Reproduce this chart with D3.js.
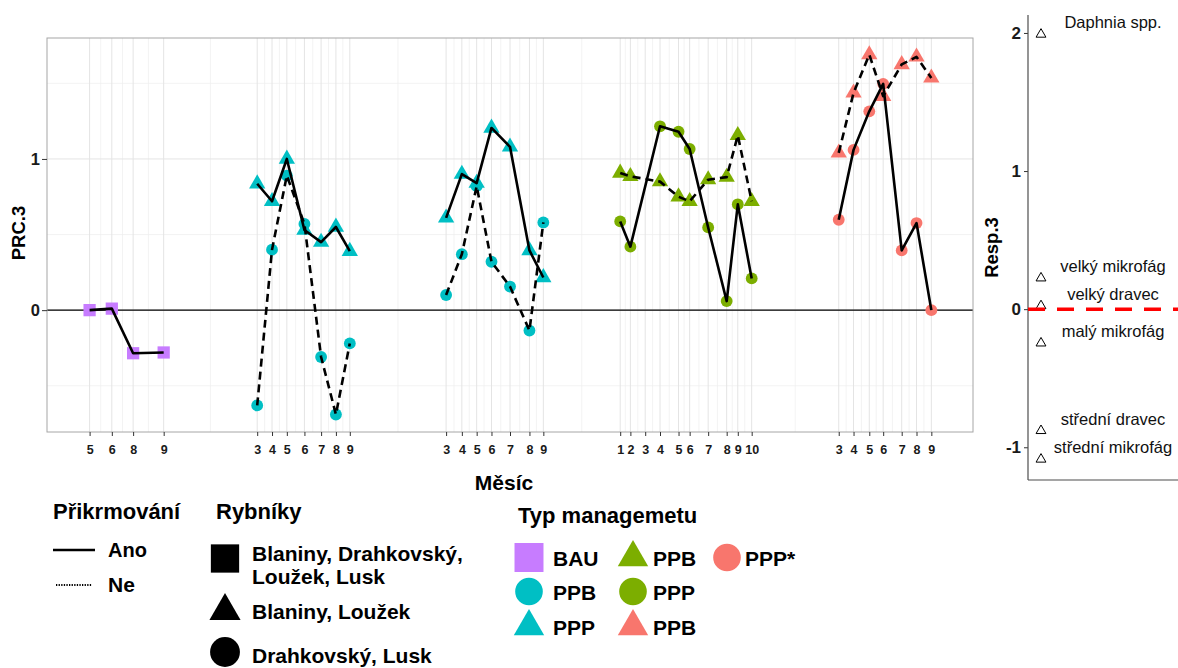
<!DOCTYPE html>
<html>
<head>
<meta charset="utf-8">
<script src="https://cdn.jsdelivr.net/npm/d3@7"></script>
<style>
  body { margin: 0; background: #fff; }
  text { font-family: "Liberation Sans", Arial, sans-serif; }
</style>
</head>
<body>
<svg id="chart" width="1178" height="668"></svg>
<script>
(function(){
    // x axis: position along the concatenated season axis (0-100), month labels
    var tickPos = [4.6, 7.0, 9.3, 12.6,
                   22.7, 24.3, 25.9, 27.8, 29.6, 31.2, 32.7,
                   43.1, 44.8, 46.4, 48.0, 50.0, 52.1, 53.6,
                   61.9, 63.0, 64.6, 66.2, 68.2, 69.4, 71.4, 73.4, 74.6, 76.1,
                   85.5, 87.1, 88.8, 90.3, 92.3, 93.9, 95.5];
    var tickLab = ['5','6','8','9',
                   '3','4','5','6','7','8','9',
                   '3','4','5','6','7','8','9',
                   '1','2','3','4','5','6','7','8','9','10',
                   '3','4','5','6','7','8','9'];

    var posBau = [4.6, 7.0, 9.3, 12.6];
    var posA = [22.7, 24.3, 25.9, 27.8, 29.6, 31.2, 32.7];
    var posB = [43.1, 44.8, 46.4, 48.0, 50.0, 52.1, 53.6];
    var posC = [61.9, 63.0, 66.2, 68.2, 69.4, 71.4, 73.4, 74.6, 76.1];
    var posD = [85.5, 87.1, 88.8, 90.3, 92.3, 93.9, 95.5];

    // PRC.3 values
    var bau      = [0.0, 0.01, -0.285, -0.28];
    var cyanTriA = [0.836, 0.72, 1.0, 0.53, 0.45, 0.55, 0.39];
    var cyanCirA = [-0.63, 0.40, 0.89, 0.57, -0.31, -0.69, -0.22];
    var cyanTriB = [0.61, 0.90, 0.84, 1.205, 1.08, 0.395, 0.216];
    var cyanCirB = [0.10, 0.37, 0.82, 0.32, 0.156, -0.135, 0.58];
    var greenCir = [0.587, 0.42, 1.216, 1.18, 1.066, 0.547, 0.06, 0.70, 0.21];
    var greenTri = [0.907, 0.885, 0.85, 0.75, 0.72, 0.863, 0.88, 1.156, 0.72];
    var redCir   = [0.598, 1.06, 1.315, 1.497, 0.395, 0.576, 0.0];
    var redTri   = [1.04, 1.437, 1.69, 1.415, 1.625, 1.675, 1.536];

    // species scores (Resp.3)
    var species = ['Daphnia spp.', 'velký mikrofág', 'velký dravec', 'malý mikrofág', 'střední dravec', 'střední mikrofág'];
    var resp = [1.99, 0.225, 0.024, -0.246, -0.88, -1.087];

    var purple = '#C77CFF', cyan = '#00BFC4', green = '#7CAE00', red = '#F8766D';

    var series = [
        {x: posBau, y: bau,      shape: 'square',   col: purple, dash: false},
        {x: posA,   y: cyanTriA, shape: 'triangle', col: cyan,   dash: false},
        {x: posA,   y: cyanCirA, shape: 'circle',   col: cyan,   dash: true},
        {x: posB,   y: cyanTriB, shape: 'triangle', col: cyan,   dash: false},
        {x: posB,   y: cyanCirB, shape: 'circle',   col: cyan,   dash: true},
        {x: posC,   y: greenCir, shape: 'circle',   col: green,  dash: false},
        {x: posC,   y: greenTri, shape: 'triangle', col: green,  dash: true},
        {x: posD,   y: redCir,   shape: 'circle',   col: red,    dash: false},
        {x: posD,   y: redTri,   shape: 'triangle', col: red,    dash: true}
    ];

    var svg = d3.select('#chart');
    var L = 47, R = 973, T = 38, B = 432;

    var x = d3.scaleLinear().domain([0, 100]).range([L, R]);
    var y = d3.scaleLinear().domain([-0.806, 1.80]).range([B, T]);

    var symType = {square: d3.symbolSquare, triangle: d3.symbolTriangle, circle: d3.symbolCircle};
    var symSize = {square: 150, triangle: 115, circle: 110};
    var fmt = function(d){ return String(d) };   // plain hyphen for negatives

    // grid --------------------------------
    var grid = svg.append('g');
    var minorX = [];
    for (var i = 1; i < tickPos.length; i++) minorX.push((tickPos[i-1] + tickPos[i]) / 2);
    grid.selectAll('.mx').data(minorX).enter().append('line')
        .attr('x1', function(d){ return x(d) }).attr('x2', function(d){ return x(d) })
        .attr('y1', T).attr('y2', B)
        .attr('stroke', '#eeeeee').attr('stroke-width', 0.7);
    grid.selectAll('.my').data([-0.5, 0.5, 1.5]).enter().append('line')
        .attr('x1', L).attr('x2', R)
        .attr('y1', function(d){ return y(d) }).attr('y2', function(d){ return y(d) })
        .attr('stroke', '#eeeeee').attr('stroke-width', 0.7);
    grid.selectAll('.Mx').data(tickPos).enter().append('line')
        .attr('x1', function(d){ return x(d) }).attr('x2', function(d){ return x(d) })
        .attr('y1', T).attr('y2', B)
        .attr('stroke', '#e4e4e4').attr('stroke-width', 1);
    grid.selectAll('.My').data([0, 1]).enter().append('line')
        .attr('x1', L).attr('x2', R)
        .attr('y1', function(d){ return y(d) }).attr('y2', function(d){ return y(d) })
        .attr('stroke', '#e4e4e4').attr('stroke-width', 1);

    svg.append('line')
        .attr('x1', L).attr('x2', R).attr('y1', y(0)).attr('y2', y(0))
        .attr('stroke', '#000').attr('stroke-width', 1.2);

    // points first, lines on top
    series.forEach(function(s){
        svg.append('g').selectAll('path').data(d3.range(s.x.length)).enter().append('path')
            .attr('d', d3.symbol().type(symType[s.shape]).size(symSize[s.shape]))
            .attr('transform', function(i){ return 'translate(' + x(s.x[i]) + ',' + y(s.y[i]) + ')' })
            .attr('fill', s.col);
    });
    series.forEach(function(s){
        var ln = d3.line().x(function(i){ return x(s.x[i]) }).y(function(i){ return y(s.y[i]) });
        svg.append('path')
            .attr('d', ln(d3.range(s.x.length)))
            .attr('fill', 'none')
            .attr('stroke', '#000')
            .attr('stroke-width', 2.6)
            .attr('stroke-linejoin', 'round')
            .attr('stroke-dasharray', s.dash ? '8,5' : null);
    });

    svg.append('rect')
        .attr('x', L).attr('y', T).attr('width', R - L).attr('height', B - T)
        .attr('fill', 'none').attr('stroke', '#a6a6a6').attr('stroke-width', 1);

    // axes
    var xAxis = svg.append('g').attr('transform', 'translate(0,' + B + ')')
        .call(d3.axisBottom(x).tickValues(tickPos).tickSize(4).tickPadding(9)
            .tickFormat(function(d, i){ return tickLab[i] }));
    xAxis.select('.domain').remove();
    xAxis.selectAll('line').attr('stroke', '#333');
    xAxis.selectAll('text').attr('font-size', 12.5).attr('font-weight', 'bold').attr('fill', '#1a1a1a')
        .attr('font-family', '"Liberation Sans", Arial, sans-serif');

    var yAxis = svg.append('g').attr('transform', 'translate(' + L + ',0)')
        .call(d3.axisLeft(y).tickValues([0, 1]).tickSize(5).tickPadding(2).tickFormat(fmt));
    yAxis.select('.domain').remove();
    yAxis.selectAll('line').attr('stroke', '#333');
    yAxis.selectAll('text').attr('font-size', 16.5).attr('font-weight', 'bold').attr('fill', '#1a1a1a')
        .attr('font-family', '"Liberation Sans", Arial, sans-serif');

    svg.append('text').text('PRC.3')
        .attr('transform', 'translate(25,233) rotate(-90)')
        .attr('text-anchor', 'middle').attr('font-size', 18.5).attr('font-weight', 'bold');
    svg.append('text').text('Měsíc')
        .attr('x', 504).attr('y', 490)
        .attr('text-anchor', 'middle').attr('font-size', 21).attr('font-weight', 'bold');

    // species panel --------------------------------
    var rx0 = 1028, rT = 15, rB = 480;
    var yR = d3.scaleLinear().domain([-1.237, 2.13]).range([rB, rT]);
    var rAxis = svg.append('g').attr('transform', 'translate(' + rx0 + ',0)')
        .call(d3.axisLeft(yR).tickValues([-1, 0, 1, 2]).tickSize(4).tickPadding(3).tickFormat(fmt));
    rAxis.select('.domain').remove();
    rAxis.selectAll('line').attr('stroke', '#333');
    rAxis.selectAll('text').attr('font-size', 17).attr('font-weight', 'bold').attr('fill', '#1a1a1a')
        .attr('font-family', '"Liberation Sans", Arial, sans-serif');
    svg.append('line').attr('x1', rx0).attr('x2', rx0).attr('y1', rT).attr('y2', rB)
        .attr('stroke', '#4d4d4d').attr('stroke-width', 1.2);
    svg.append('line').attr('x1', rx0).attr('x2', 1178).attr('y1', rB).attr('y2', rB)
        .attr('stroke', '#4d4d4d').attr('stroke-width', 1.2);
    svg.append('text').text('Resp.3')
        .attr('transform', 'translate(998,' + ((rT + rB) / 2) + ') rotate(-90)')
        .attr('text-anchor', 'middle').attr('font-size', 18.5).attr('font-weight', 'bold');

    svg.append('g').selectAll('path').data(resp).enter().append('path')
        .attr('d', d3.symbol().type(d3.symbolTriangle).size(42))
        .attr('transform', function(d){ return 'translate(1041,' + yR(d) + ')' })
        .attr('fill', 'none').attr('stroke', '#000').attr('stroke-width', 1);
    svg.append('line').attr('x1', rx0).attr('x2', 1178).attr('y1', yR(0)).attr('y2', yR(0))
        .attr('stroke', '#ff0000').attr('stroke-width', 3.5).attr('stroke-dasharray', '17,12');
    svg.append('g').selectAll('text').data(species).enter().append('text')
        .text(function(d){ return d })
        .attr('x', 1113)
        .attr('y', function(d, i){ return yR(resp[i]) - 6 })
        .attr('text-anchor', 'middle').attr('font-size', 16.5).attr('fill', '#111');

    // legends --------------------------------
    var lg = svg.append('g').attr('font-weight', 'bold');
    lg.append('text').text('Přikrmování').attr('x', 53).attr('y', 519).attr('font-size', 22);
    lg.append('line').attr('x1', 53).attr('x2', 95).attr('y1', 550).attr('y2', 550)
        .attr('stroke', '#000').attr('stroke-width', 2.6);
    lg.append('line').attr('x1', 56).attr('x2', 92).attr('y1', 585).attr('y2', 585)
        .attr('stroke', '#000').attr('stroke-width', 2).attr('stroke-dasharray', '1.3,1.3');
    lg.append('text').text('Ano').attr('x', 108).attr('y', 557).attr('font-size', 20);
    lg.append('text').text('Ne').attr('x', 108).attr('y', 592).attr('font-size', 21);

    lg.append('text').text('Rybníky').attr('x', 216).attr('y', 519).attr('font-size', 22);
    var pondLab = [['Blaniny, Drahkovský,', 'Loužek, Lusk'], ['Blaniny, Loužek'], ['Drahkovský, Lusk']];
    var pondShape = ['square', 'triangle', 'circle'];
    var pondY = [558.5, 611, 652];
    var pondBase = [[561, 584], [619], [663]];
    var pondSize = {square: 800, triangle: 420, circle: 700};
    pondShape.forEach(function(sh, i){
        lg.append('path').attr('d', d3.symbol().type(symType[sh]).size(pondSize[sh])())
            .attr('transform', 'translate(225,' + pondY[i] + ')').attr('fill', '#000');
        pondLab[i].forEach(function(t, j){
            lg.append('text').text(t).attr('x', 252).attr('y', pondBase[i][j]).attr('font-size', 21);
        });
    });

    lg.append('text').text('Typ managemetu').attr('x', 518).attr('y', 523).attr('font-size', 22);
    var mgLab = ['BAU', 'PPB', 'PPP', 'PPB', 'PPP', 'PPB', 'PPP*'];
    var mgShape = ['square', 'circle', 'triangle', 'triangle', 'circle', 'triangle', 'circle'];
    var mgCol = [purple, cyan, cyan, green, green, red, red];
    var mgColX = [529, 529, 529, 633, 633, 633, 727];
    var mgRowY = [557.5, 591.5, 626.5, 557.5, 591.5, 626.5, 557.5];
    var mgTextX = [553, 553, 553, 653, 653, 653, 745];
    var mgSize = {square: 840, triangle: 400, circle: 600};
    mgLab.forEach(function(t, i){
        lg.append('path').attr('d', d3.symbol().type(symType[mgShape[i]]).size(mgSize[mgShape[i]])())
            .attr('transform', 'translate(' + mgColX[i] + ',' + mgRowY[i] + ')').attr('fill', mgCol[i]);
        lg.append('text').text(t).attr('x', mgTextX[i]).attr('y', mgRowY[i] + 8).attr('font-size', 21);
    });
})();
</script>
</body>
</html>
